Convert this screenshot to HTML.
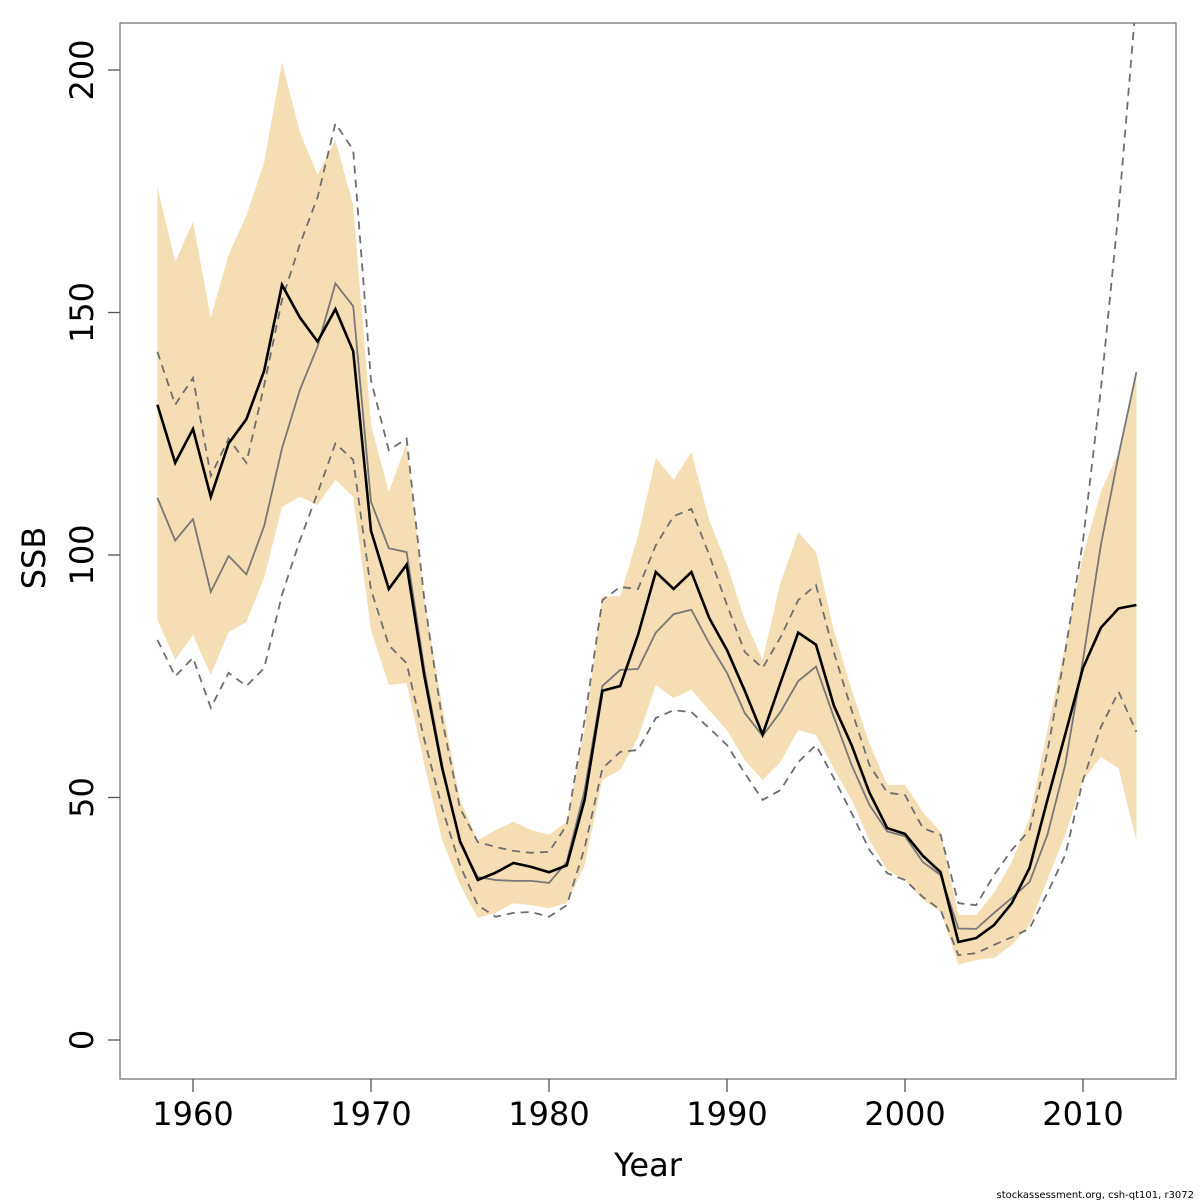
<!DOCTYPE html>
<html><head><meta charset="utf-8"><style>
html,body{margin:0;padding:0;background:#fff;width:1200px;height:1200px;overflow:hidden;}
svg{display:block;}
svg text{font-family:"DejaVu Sans","Liberation Sans",sans-serif;}
</style></head><body>
<svg id="chart" width="1200" height="1200" xmlns="http://www.w3.org/2000/svg">
<defs><clipPath id="clip"><rect x="120" y="23" width="1056" height="1056"/></clipPath></defs>
<g id="plot" clip-path="url(#clip)"></g>
<rect x="120" y="23" width="1056" height="1056" fill="none" stroke="#777" stroke-width="1.3"/>
<g id="axes"></g>
<text x="648" y="1176" font-size="32" text-anchor="middle">Year</text>
<text transform="translate(45,558) rotate(-90)" font-size="32" text-anchor="middle">SSB</text>
<text x="1194" y="1198" font-size="10" text-anchor="end">stockassessment.org, csh-qt101, r3072</text>
</svg>
<script>
const years = [];for(let y=1958;y<=2013;y++)years.push(y);
const ssbEst = [131,119,126,112,123,128,138,155.7,149,144,150.7,142,105,93,98,75,56,41,33,34.5,36.5,35.7,34.6,36,49.5,72,73,83.5,96.5,93,96.5,87,80.4,72,63,73.6,84,81.5,69,60.8,51,43.7,42.5,38,34.6,20.2,21,23.7,28.2,35.5,49.5,63,76.7,85,89,89.7];
const ssbAlt = [111.8,103,107.4,92.4,99.8,96,106,122,134,143,156,151.3,111,101.4,100.6,76.3,56.7,40.6,33.6,33,32.8,32.8,32.4,36.7,51.5,73,76.3,76.5,84,87.8,88.7,81.8,75.7,67.4,62.7,67.6,74,77,66.6,56.7,48.5,43,42,36.7,34,23,22.9,26.2,29.3,32.6,42.3,56.7,78.4,102,120.6,137.7];
const altUpper = [141.9,131,136.5,116.3,124,119,135,152.6,164,173.8,189,183.5,136,121.6,124,90.7,66,47.8,40.8,39.8,39,38.6,38.8,44.3,66,90.7,93.4,93,102,108,109.5,100,89.7,80,76.7,83,90.7,93.8,80,68,56.7,51,50.5,43.7,42.3,28.2,27.8,34,39.2,43.3,59.4,80,103,134,171,215];
const altLower = [82.5,75,78.8,68.5,75.7,73,76.7,91.8,103,112.8,123,119.6,92.8,81.4,77.7,61.9,47.8,36,27.8,25.4,26.2,26.4,25.4,27.8,39.6,56,59.4,59.8,66.4,68,67.6,64.3,60.8,55,49.5,51.5,57.3,60.8,54,46.8,39.2,34.4,33,29.5,26.8,17.5,17.9,19.6,21.2,23,30.3,38.1,53.6,64.5,71.8,63.5];
const bandUpper = [175.9,160.4,168.7,148.9,161.9,170,181,201.6,187.2,178.4,185.6,172,126.8,113,123,90.7,69,49.5,41.2,43.3,45,43.3,42.3,45,63.9,91.5,91.5,104,120,115.5,121.2,107.2,98,86.6,78.4,94.2,104.7,100.6,84.5,72.2,61.2,52.6,52.6,47,42.9,25.8,25.8,30.3,36.7,45.8,63.9,81.4,100,113,121.2,138.1];
const bandLower = [86.6,78.4,83.5,75.3,84.1,86.2,95.3,109.9,112,110.3,115.5,112,84.5,73.2,73.6,56.7,41.2,32,25.2,26.2,28.2,27.8,27.2,28.2,36,53.6,55.7,62.3,73.2,70.5,72.2,68,63.9,57.7,53.6,57.3,63.9,62.9,56,49.5,41.2,35,33,28.9,26.4,15.5,16.5,16.9,19.6,23.7,33,42.3,53.6,58.4,56,41.2];
const xTicks = [1960,1970,1980,1990,2000,2010];
const yTicks = [0,50,100,150,200];

const NS="http://www.w3.org/2000/svg";
const X = v => 193 + (v-1960)*17.8;
const Y = v => 1040 - v*4.85;
const plot=document.getElementById('plot'), axes=document.getElementById('axes');
function mk(tag,attrs,parent){const e=document.createElementNS(NS,tag);for(const k in attrs)e.setAttribute(k,attrs[k]);parent.appendChild(e);return e;}
const pts = arr => arr.map((v,i)=>X(years[i]).toFixed(1)+','+Y(v).toFixed(1)).join(' ');

const band = mk('polygon',{points: pts(bandUpper)+' '+bandLower.map((v,i)=>X(years[i]).toFixed(1)+','+Y(v).toFixed(1)).reverse().join(' '), fill:'#F5DEB3', stroke:'none'},plot);


const lu = mk('polyline',{points:pts(altUpper),fill:'none',stroke:'#6e6e6e','stroke-width':1.8,'stroke-dasharray':'8,6'},plot);


const ll = mk('polyline',{points:pts(altLower),fill:'none',stroke:'#6e6e6e','stroke-width':1.8,'stroke-dasharray':'8,6'},plot);


const la = mk('polyline',{points:pts(ssbAlt),fill:'none',stroke:'#777','stroke-width':1.8},plot);


const le = mk('polyline',{points:pts(ssbEst),fill:'none',stroke:'#000','stroke-width':2.6,'stroke-linejoin':'miter'},plot);



xTicks.forEach(t=>{
  const l=mk('line',{x1:X(t),x2:X(t),y1:1079,y2:1092,stroke:'#555','stroke-width':1.3},axes);
  
  
  const tx=mk('text',{x:X(t),y:1125,'font-size':32,'text-anchor':'middle'},axes);tx.textContent=t;
  
  
});
yTicks.forEach(t=>{
  const l=mk('line',{x1:108,x2:120,y1:Y(t),y2:Y(t),stroke:'#555','stroke-width':1.3},axes);
  
  
  const tx=mk('text',{transform:'translate(93,'+Y(t)+') rotate(-90)','font-size':32,'text-anchor':'middle'},axes);tx.textContent=t;
  
  
});
</script>
</body></html>
